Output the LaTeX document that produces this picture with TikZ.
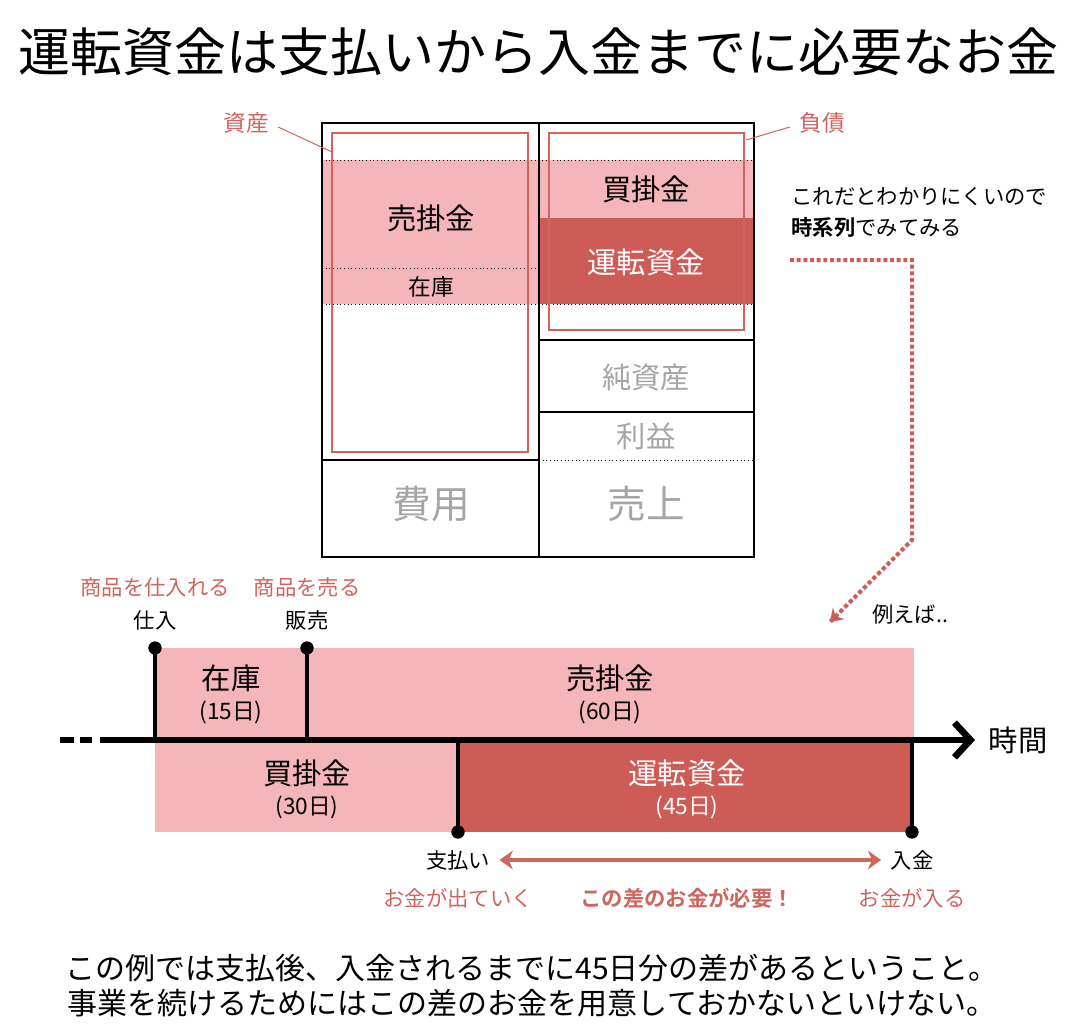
\documentclass[tikz,border=0pt]{standalone}
\usepackage{fontspec}
\setmainfont{Noto Sans CJK JP}
\newfontfamily\jpbold{Noto Sans CJK JP Bold}
\usetikzlibrary{arrows.meta,calc}
\definecolor{lightpink}{RGB}{245,182,186}
\definecolor{darkred}{RGB}{205,92,87}
\definecolor{labelred}{RGB}{208,100,95}
\definecolor{softgrey}{RGB}{165,165,165}
\tikzset{every picture/.style={line width=0.75pt}}
\tikzset{
  bigtxt/.style={font=\fontsize{22}{25}\selectfont,inner sep=0.75pt},
  midtxt/.style={font=\fontsize{17}{19}\selectfont,inner sep=0.75pt},
  smalltxt/.style={font=\fontsize{16}{18}\selectfont,inner sep=0.75pt},
  redtxt/.style={smalltxt,text=labelred},
  sheet/.style={line width=2.2pt},
  frame/.style={draw=labelred,line width=2pt},
  dotline/.style={dotted,line width=0.75pt},
  dot/.style={circle,fill=black,inner sep=0pt,minimum size=10pt}
}
\begin{document}
\begin{tikzpicture}[x=0.75pt,y=0.75pt,yscale=-1,xscale=1]
\useasboundingbox (0,0) rectangle (1080,1033);

% Title
\node (title) at (538,52) [font=\fontsize{39}{42}\selectfont] {運転資金は支払いから入金までに必要なお金};

% Balance sheet fills
\fill [lightpink] (322,160) rectangle (539,304);
\fill [lightpink] (539,160) rectangle (754,218);
\fill [darkred] (539,218) rectangle (754,304);
\draw [dotline] (322,160) -- (754,160);
\draw [dotline] (322,268) -- (539,268);
\draw [dotline] (322,304) -- (754,304);
\draw [dotline] (539,460) -- (754,460);
\draw [sheet] (322,123) rectangle (754,557);
\draw [sheet] (539,123) -- (539,557);
\draw [sheet] (322,460) -- (539,460);
\draw [sheet] (539,340) -- (754,340);
\draw [sheet] (539,412) -- (754,412);
\draw [frame] (332,133) rectangle (528,452);
\draw [frame] (549,133) rectangle (744,330);

% Balance sheet labels
\node (urikake) at (431,218) [bigtxt] {売掛金};
\node (zaiko) at (431,287) [midtxt] {在庫};
\node (kaikake) at (646,189) [bigtxt] {買掛金};
\node (unten) at (646,262) [bigtxt,text=white] {運転資金};
\node (junshi) at (646,377) [bigtxt,text=softgrey] {純資産};
\node (rieki) at (646,436) [bigtxt,text=softgrey] {利益};
\node (hiyou) at (431,504) [font=\fontsize{29}{32}\selectfont,text=softgrey] {費用};
\node (uriage) at (646,504) [font=\fontsize{29}{32}\selectfont,text=softgrey] {売上};
\node (shisan) at (246,123) [midtxt,text=labelred] {資産};
\node (fusai) at (822,123) [midtxt,text=labelred] {負債};
\coordinate (shisanend) at (332,152);
\coordinate (fusaiend) at (746,140);
\draw [labelred] ($(shisan.east)+(8,4)$) -- (shisanend);
\draw [labelred] ($(fusai.west)+(-8,4)$) -- (fusaiend);

% Note and arrow
\node (note) at (790,197) [smalltxt,anchor=west] {これだとわかりにくいので};
\node (note2) at (790,227) [smalltxt,anchor=west] {{\jpbold 時系列}でみてみる};
\coordinate (a1) at (790,260);
\coordinate (a2) at (912,260);
\coordinate (a3) at (912,540);
\coordinate (a4) at (830,622);
\draw [darkred,dotted,line width=3pt] (a1) -- (a2) -- (a3) -- (a4);
\draw [darkred,line width=3pt,-{Stealth[length=9pt,width=12pt]}] ($(a4)+(1,-1)$) -- (a4);
\node (reieba) at (910,614) [smalltxt] {例えば..};

% Timeline
\fill [lightpink] (155,648) rectangle (914,740);
\fill [lightpink] (155,740) rectangle (458,832);
\fill [darkred] (458,740) rectangle (914,832);
\coordinate (tstart) at (100,740);
\coordinate (tend) at (975,740);
\draw [line width=5pt] (60,740) -- (92,740);
\draw [white,line width=6pt] (74,740) -- (80,740);
\draw [line width=5pt,-{Straight Barb[length=12pt,width=26pt,line width=5pt]}] (tstart) -- (tend);
\node (jikan) at (1018,740) [bigtxt] {時間};

\node (d1) at (155,648) [dot] {};
\node (d2) at (307,648) [dot] {};
\node (d3) at (458,832) [dot] {};
\node (d4) at (912,832) [dot] {};
\draw [line width=2.5pt] (d1.center) -- (155,740);
\draw [line width=2.5pt] (d2.center) -- (307,740);
\draw [line width=2.5pt] (d3.center) -- (458,740);
\draw [line width=2.5pt] (d4.center) -- (912,740);

\node (shiire) at (155,620) [smalltxt] {仕入};
\node (hanbai) at (307,620) [smalltxt] {販売};
\node (shiirered) at (155,587) [redtxt] {商品を仕入れる};
\node (hanbaired) at (307,587) [redtxt] {商品を売る};
\node (tzaiko) at (231,678) [bigtxt] {在庫};
\node (tzaikod) at (231,712) [midtxt] {(15日)};
\node (turi) at (610,678) [bigtxt] {売掛金};
\node (turid) at (610,712) [midtxt] {(60日)};
\node (tkai) at (307,773) [bigtxt] {買掛金};
\node (tkaid) at (307,807) [midtxt] {(30日)};
\node (tunten) at (687,773) [bigtxt,text=white] {運転資金};
\node (tuntend) at (687,807) [midtxt,text=white] {(45日)};

\node (shiharai) at (458,860) [smalltxt] {支払い};
\node (nyukin) at (912,860) [smalltxt] {入金};
\draw [labelred,line width=3pt,{Stealth[length=10pt,width=14pt]}-{Stealth[length=10pt,width=14pt]}] ($(shiharai.east)+(8,0)$) -- ($(nyukin.west)+(-8,0)$);
\node (deteiku) at (458,898) [redtxt] {お金が出ていく};
\node (hitsuyou) at (687,898) [smalltxt,text=labelred,font=\jpbold\fontsize{16}{18}\selectfont] {この差のお金が必要！};
\node (hairu) at (912,898) [redtxt] {お金が入る};

% Bottom text
\node (line1) at (532,968) [font=\fontsize{22.5}{26}\selectfont] {この例では支払後、入金されるまでに45日分の差があるということ。};
\node (line2) at (532,1003) [font=\fontsize{22.5}{26}\selectfont] {事業を続けるためにはこの差のお金を用意しておかないといけない。};
\end{tikzpicture}
\end{document}
